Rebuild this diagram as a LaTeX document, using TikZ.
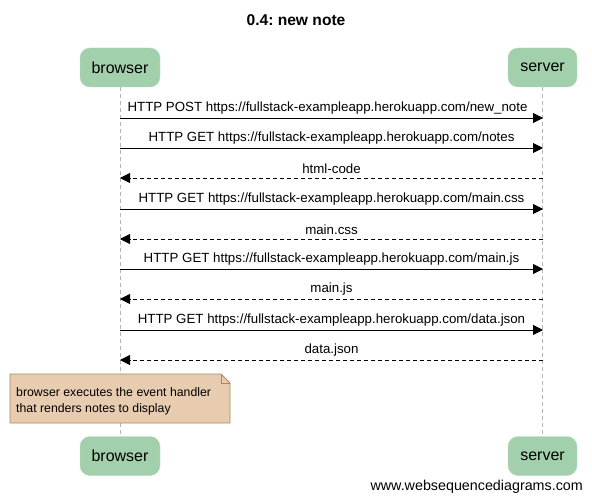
\documentclass[tikz,border=0pt]{standalone}
\usepackage{fontspec}
\setmainfont{Liberation Sans}
\frenchspacing
\usetikzlibrary{arrows.meta}
\definecolor{partgreen}{RGB}{162,208,172}
\definecolor{notefill}{RGB}{232,204,176}
\definecolor{notedraw}{RGB}{168,138,94}
\definecolor{lifegray}{RGB}{180,180,180}
\begin{document}
\begin{tikzpicture}[x=1pt,y=-1pt,
  part/.style={draw=partgreen!80!white,fill=partgreen,rounded corners=10pt,minimum width=80pt,minimum height=39pt,inner sep=0pt,font=\fontsize{16}{18}\selectfont},
  lifeline/.style={draw=lifegray,dashed,dash pattern=on 4pt off 3pt,line width=0.8pt},
  msg/.style={line width=0.8pt,-{Triangle[length=10pt,width=10pt]}},
  reply/.style={msg,dashed,dash pattern=on 4pt off 3pt},
  lbl/.style={font=\fontsize{13.3}{15}\selectfont,inner sep=0pt,anchor=base}]
\useasboundingbox (0,0) rectangle (592,500);
\fill[white] (0,0) rectangle (592,500);
\node[font=\fontsize{15.6}{18}\selectfont\bfseries] (title) at (296,20) {0.4: new note};
\node[part,minimum width=80pt] (bt) at (120,67.5) {browser};
\node[part,minimum width=69pt] (st) at (542.5,67.5) {server};
\node[part,minimum width=80pt] (bb) at (120,456) {browser};
\node[part,minimum width=69pt] (sb) at (542.5,456) {server};
\draw[lifeline] (bt.south) -- (bb.north);
\draw[lifeline] (st.south) -- (sb.north);
% message coordinates
\foreach \n/\y in {1/118,2/148,3/178,4/209,5/239,6/269,7/299,8/330,9/360}{
  \coordinate (b\n) at (120,\y);
  \coordinate (s\n) at (543,\y);
}
\draw[msg] (b1) -- node[lbl,above=3.5pt,xshift=-4pt] {HTTP POST https://fullstack-exampleapp.herokuapp.com/new\_note} (s1);
\draw[msg] (b2) -- node[lbl,above=3.5pt] {HTTP GET https://fullstack-exampleapp.herokuapp.com/notes} (s2);
\draw[reply] (s3) -- node[lbl,above=3.5pt] {html-code} (b3);
\draw[msg] (b4) -- node[lbl,above=3.5pt] {HTTP GET https://fullstack-exampleapp.herokuapp.com/main.css} (s4);
\draw[reply] (s5) -- node[lbl,above=3.5pt] {main.css} (b5);
\draw[msg] (b6) -- node[lbl,above=3.5pt] {HTTP GET https://fullstack-exampleapp.herokuapp.com/main.js} (s6);
\draw[reply] (s7) -- node[lbl,above=3.5pt] {main.js} (b7);
\draw[msg] (b8) -- node[lbl,above=3.5pt] {HTTP GET https://fullstack-exampleapp.herokuapp.com/data.json} (s8);
\draw[reply] (s9) -- node[lbl,above=3.5pt] {data.json} (b9);
% note
\draw[draw=notedraw,fill=notefill,line width=0.8pt] (10,374) -- (221,374) -- (230,383) -- (230,423) -- (10,423) -- cycle;
\draw[draw=notedraw,line width=0.6pt] (221,374) -- (221,383) -- (230,383);
\node[font=\fontsize{12.3}{16}\selectfont,align=left,anchor=north west,inner sep=0pt] (note) at (16,387) {browser executes the event handler\\that renders notes to display};
\node[font=\fontsize{14.3}{16}\selectfont,anchor=base east,inner sep=0pt] (footer) at (583,490) {www.websequencediagrams.com};
\end{tikzpicture}
\end{document}
